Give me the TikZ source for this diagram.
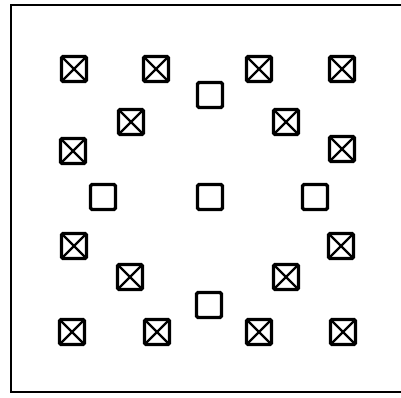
\documentclass[tikz,border=0pt]{standalone}
\begin{document}
\begin{tikzpicture}[x=1pt,y=-1pt,
  plainbox/.style={draw, line width=3.2pt, rounded corners=1.5pt, minimum size=25pt, inner sep=0pt, shape=rectangle},
  crossbox/.style={plainbox, path picture={
    \draw[line width=2.4pt] (path picture bounding box.north west) -- (path picture bounding box.south east)
      (path picture bounding box.north east) -- (path picture bounding box.south west);}}]
\useasboundingbox (0,0) rectangle (401,398);
\draw[line width=2.5pt] (408,5) -- (11,5) -- (11,392) -- (408,392);
% crossed boxes
\node[crossbox] (a1) at (74,69) {};
\node[crossbox] (a2) at (156,69) {};
\node[crossbox] (a3) at (259,69) {};
\node[crossbox] (a4) at (342,69) {};
\node[crossbox] (b1) at (131,122) {};
\node[crossbox] (b2) at (286,122) {};
\node[crossbox] (c1) at (73,151) {};
\node[crossbox] (c2) at (342,149) {};
\node[crossbox] (d1) at (74,246) {};
\node[crossbox] (d2) at (341,246) {};
\node[crossbox] (e1) at (130,277) {};
\node[crossbox] (e2) at (286,277) {};
\node[crossbox] (f1) at (72,332) {};
\node[crossbox] (f2) at (157,332) {};
\node[crossbox] (f3) at (259,332) {};
\node[crossbox] (f4) at (343,332) {};
% plain boxes
\node[plainbox] (p1) at (210,95) {};
\node[plainbox] (p2) at (103,197) {};
\node[plainbox] (p3) at (210,197) {};
\node[plainbox] (p4) at (315,197) {};
\node[plainbox] (p5) at (209,305) {};
\end{tikzpicture}
\end{document}
